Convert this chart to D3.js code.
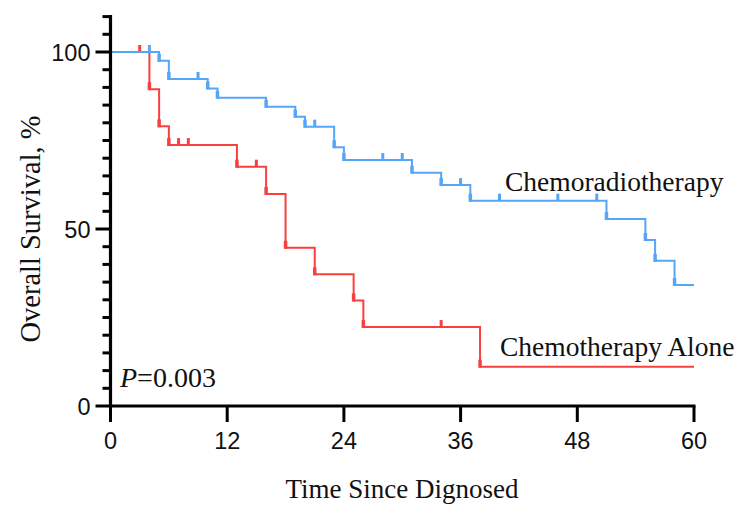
<!DOCTYPE html>
<html>
<head>
<meta charset="utf-8">
<script src="https://cdn.jsdelivr.net/npm/d3@7"></script>
<style>
  body { margin: 0; background: #fff; }
  .serif { font-family: "Liberation Serif", "Times New Roman", serif; fill: #111; }
  .tickLabel { font-family: "Liberation Sans", Arial, sans-serif; font-size: 23.5px; fill: #111; }
</style>
</head>
<body>
<div id="chart"></div>
<script>
// Chemoradiotherapy (blue) - event times (months) and survival (%) after each event
var crtTimes = [0, 5, 6, 10, 11, 16, 19, 20, 23, 24, 31, 34, 37, 51, 55, 56, 58];
var crtSurv = [100, 97.5, 92.4, 89.7, 87.1, 84.5, 81.7, 78.9, 73.1, 69.5, 65.9, 62.4, 58.0, 52.8, 46.9, 41.0, 34.2];
var crtCensored = [4, 9, 21, 28, 30, 36, 40, 46, 50];

// Chemotherapy alone (red)
var chemoTimes = [0, 4, 5, 6, 13, 16, 18, 21, 25, 26, 38];
var chemoSurv = [100, 89.5, 79.0, 73.7, 67.6, 59.9, 44.7, 37.2, 29.8, 22.3, 11.1];
var chemoCensored = [3, 7, 8, 15, 34];

var xTicks = [0, 12, 24, 36, 48, 60];
var yTicks = [0, 50, 100];
var followUp = 60;

var width = 746, height = 513;
var blue = "#55a6f7", red = "#f8403f";

var svg = d3.select("#chart").append("svg")
  .attr("width", width)
  .attr("height", height);

var x = d3.scaleLinear().domain([0, 60]).range([110.5, 694]);
var y = d3.scaleLinear().domain([0, 100]).range([406, 52]);

// step value at time t
function survAt(times, surv, t) {
  var s = surv[0];
  for (var i = 0; i < times.length; i++) {
    if (times[i] <= t) s = surv[i];
  }
  return s;
}

function drawCurve(times, surv, censored, color) {
  var pts = times.map(function (t, i) { return [t, surv[i]]; });
  pts.push([followUp, surv[surv.length - 1]]);

  var line = d3.line()
    .x(function (d) { return x(d[0]); })
    .y(function (d) { return y(d[1]); })
    .curve(d3.curveStepAfter);

  svg.append("path")
    .datum(pts)
    .attr("fill", "none")
    .attr("stroke", color)
    .attr("stroke-width", 2)
    .attr("d", line);

  // marks at each event (bottom of drop)
  svg.selectAll()
    .data(times.slice(1).map(function (t, i) { return [t, surv[i + 1]]; }))
    .enter()
    .append("line")
    .attr("x1", function (d) { return x(d[0]); })
    .attr("x2", function (d) { return x(d[0]); })
    .attr("y1", function (d) { return y(d[1]) - 7; })
    .attr("y2", function (d) { return y(d[1]) + 1; })
    .attr("stroke", color)
    .attr("stroke-width", 3.5);

  // censor ticks
  svg.selectAll()
    .data(censored)
    .enter()
    .append("line")
    .attr("x1", function (d) { return x(d); })
    .attr("x2", function (d) { return x(d); })
    .attr("y1", function (d) { return y(survAt(times, surv, d)) - 7; })
    .attr("y2", function (d) { return y(survAt(times, surv, d)); })
    .attr("stroke", color)
    .attr("stroke-width", 3);
}

drawCurve(chemoTimes, chemoSurv, chemoCensored, red);
drawCurve(crtTimes, crtSurv, crtCensored, blue);

// y axis: major + minor ticks
var yMinor = d3.range(0, 111, 5).filter(function (v) { return yTicks.indexOf(v) < 0; });
var yAxis = svg.append("g").attr("transform", "translate(" + 110.5 + ",0)");
yAxis.append("line")
  .attr("x1", 0).attr("x2", 0)
  .attr("y1", y(110) - 1.5).attr("y2", y(0) + 1.5)
  .attr("stroke", "#000").attr("stroke-width", 3.2);
yAxis.selectAll()
  .data(yMinor).enter().append("line")
  .attr("x1", -8).attr("x2", 0)
  .attr("y1", function (d) { return y(d); })
  .attr("y2", function (d) { return y(d); })
  .attr("stroke", "#000").attr("stroke-width", 3);
yAxis.selectAll()
  .data(yTicks).enter().append("line")
  .attr("x1", -15).attr("x2", 0)
  .attr("y1", function (d) { return y(d); })
  .attr("y2", function (d) { return y(d); })
  .attr("stroke", "#000").attr("stroke-width", 3);
yAxis.selectAll()
  .data(yTicks).enter().append("text")
  .attr("class", "tickLabel")
  .attr("x", -20)
  .attr("y", function (d) { return y(d) + 8.5; })
  .style("text-anchor", "end")
  .text(function (d) { return d; });

// x axis
var xAxis = svg.append("g").attr("transform", "translate(0," + y(0) + ")");
xAxis.append("line")
  .attr("x1", x(0) - 1.5).attr("x2", x(60) + 1.5)
  .attr("y1", 0).attr("y2", 0)
  .attr("stroke", "#000").attr("stroke-width", 3.2);
xAxis.selectAll()
  .data(xTicks).enter().append("line")
  .attr("x1", function (d) { return x(d); })
  .attr("x2", function (d) { return x(d); })
  .attr("y1", 0).attr("y2", 16)
  .attr("stroke", "#000").attr("stroke-width", 3);
xAxis.selectAll()
  .data(xTicks).enter().append("text")
  .attr("class", "tickLabel")
  .attr("x", function (d) { return x(d); })
  .attr("y", 43)
  .style("text-anchor", "middle")
  .text(function (d) { return d; });

// axis titles
svg.append("text")
  .attr("class", "serif")
  .attr("x", 402)
  .attr("y", 498)
  .style("font-size", "27px")
  .style("text-anchor", "middle")
  .text("Time Since Dignosed");

svg.append("text")
  .attr("class", "serif")
  .attr("transform", "translate(" + 40 + " ," + 229 + ") rotate(-90)")
  .style("font-size", "28.5px")
  .style("text-anchor", "middle")
  .text("Overall Survival, %");

// curve labels
svg.append("text")
  .attr("class", "serif")
  .attr("x", 505)
  .attr("y", 191)
  .style("font-size", "27.5px")
  .text("Chemoradiotherapy");

svg.append("text")
  .attr("class", "serif")
  .attr("x", 500)
  .attr("y", 356)
  .style("font-size", "27.5px")
  .text("Chemotherapy Alone");

var pText = svg.append("text")
  .attr("class", "serif")
  .attr("x", 120)
  .attr("y", 387)
  .style("font-size", "28px");
pText.append("tspan").style("font-style", "italic").text("P");
pText.append("tspan").text("=0.003");
</script>
</body>
</html>
